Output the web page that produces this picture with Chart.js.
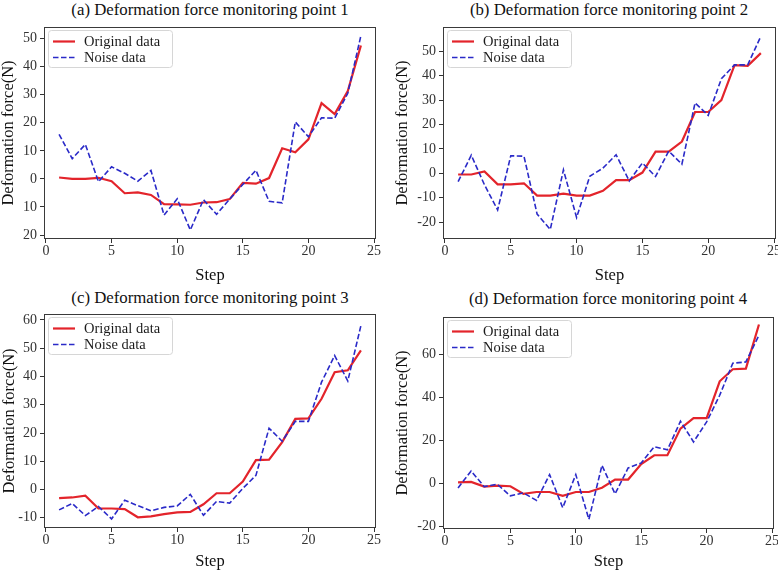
<!DOCTYPE html>
<html>
<head>
<meta charset="utf-8">
<script src="https://cdn.jsdelivr.net/npm/chart.js@4.4.0/dist/chart.umd.min.js"></script>
<style>
    body {
        margin: 0;
        background: #ffffff;
        width: 778px;
        height: 572px;
        position: relative;
        overflow: hidden;
        font-family: "Liberation Serif", "DejaVu Serif", serif;
    }
    .panel-title {
        position: absolute;
        width: 400px;
        text-align: center;
        font-size: 16.8px;
        line-height: 20px;
        color: #111;
        white-space: nowrap;
    }
    canvas {
        position: absolute;
    }
</style>
</head>
<body>
<div class="panel-title" style="left:10px; top:0px;">(a) Deformation force monitoring point 1</div>
<div class="panel-title" style="left:409px; top:0px;">(b) Deformation force monitoring point 2</div>
<div class="panel-title" style="left:10px; top:288px;">(c) Deformation force monitoring point 3</div>
<div class="panel-title" style="left:408px; top:289px;">(d) Deformation force monitoring point 4</div>

<canvas id="chartA" width="390" height="265" style="left:0px; top:20px;"></canvas>
<canvas id="chartB" width="388" height="265" style="left:390px; top:20px;"></canvas>
<canvas id="chartC" width="390" height="272" style="left:0px; top:300px;"></canvas>
<canvas id="chartD" width="388" height="272" style="left:390px; top:300px;"></canvas>

<script>
// Messschritte (x-Achse)
const steps = [1, 2, 3, 4, 5, 6, 7, 8, 9, 10, 11, 12, 13, 14, 15, 16, 17, 18, 19, 20, 21, 22, 23, 24];

// Messpunkt 1
const originalA = [0.5, 0.0, 0.0, 0.4, -0.8, -5.1, -4.8, -5.7, -9.0, -9.1, -9.2, -8.4, -8.3, -7.2, -1.4, -1.7, 0.3, 10.9, 9.5, 14.1, 27.0, 23.1, 31.3, 47.5];
const noiseA = [15.9, 7.2, 12.3, -1.0, 4.3, 2.0, -0.8, 3.0, -12.9, -7.1, -18.2, -7.4, -12.6, -7.2, -2.0, 3.1, -8.0, -8.5, 20.3, 15.0, 21.8, 21.6, 30.5, 51.0];

// Messpunkt 2
const originalB = [-0.5, -0.5, 0.8, -4.5, -4.5, -4.1, -9.1, -9.1, -8.3, -9.1, -9.1, -7.2, -2.8, -2.8, 0.3, 8.9, 8.9, 13.0, 25.1, 25.1, 30.0, 44.3, 44.0, 49.2];
const noiseB = [-3.4, 7.4, -4.7, -15.0, 7.2, 7.0, -16.7, -23.0, 1.4, -18.1, -1.2, 2.1, 7.6, -3.1, 4.2, -1.3, 9.1, 3.7, 28.8, 23.7, 38.7, 44.4, 44.4, 56.1];

// Messpunkt 3
const originalC = [-3.0, -2.8, -2.2, -6.7, -6.7, -6.9, -9.8, -9.5, -8.7, -8.1, -7.9, -5.2, -1.3, -1.3, 2.8, 10.4, 10.6, 16.8, 25.0, 25.2, 32.1, 41.5, 42.2, 49.2];
const noiseC = [-7.2, -4.9, -9.2, -6.0, -10.4, -3.8, -5.7, -7.5, -6.3, -5.8, -1.7, -9.1, -4.2, -4.8, 0.4, 5.0, 21.7, 17.1, 24.1, 24.1, 38.0, 47.4, 38.4, 58.0];

// Messpunkt 4
const originalD = [0.6, 0.8, -1.4, -0.9, -1.2, -4.8, -3.9, -3.9, -5.7, -3.9, -3.9, -1.9, 1.9, 1.9, 9.1, 13.2, 13.2, 25.6, 30.5, 30.5, 47.6, 53.2, 53.5, 74.0];
const noiseD = [-2.0, 5.9, -1.4, -0.3, -5.7, -4.3, -7.8, 4.2, -11.2, 4.2, -16.6, 8.5, -4.8, 7.3, 9.6, 17.2, 15.7, 29.0, 19.4, 28.7, 41.1, 56.0, 56.6, 69.0];

// Achsenbeschriftungen
const xTicks = [0, 5, 10, 15, 20, 25];
const yTicksA = [-20, -10, 0, 10, 20, 30, 40, 50];
const yLabelsA = ['20', '10', '0', '10', '20', '30', '40', '50'];   // im Original ohne Minuszeichen
const yTicksB = [-20, -10, 0, 10, 20, 30, 40, 50];
const yTicksC = [-10, 0, 10, 20, 30, 40, 50, 60];
const yTicksD = [-20, 0, 20, 40, 60];

const legendLabels = ['Original data', 'Noise data'];

const originalColor = '#e3242b';
const noiseColor = '#2a2ac8';
const serif = '"Liberation Serif", "DejaVu Serif", serif';

/**
 * Wandelt eine Werteliste in {x, y}-Punkte um
 */
function toPoints(values) {
    return values.map((v, i) => ({ x: steps[i], y: v }));
}

/**
 * Zeichnet Rahmen und Legende (matplotlib-Stil)
 */
const frameLegendPlugin = {
    id: 'frameLegend',
    afterDatasetsDraw(chart) {
        const ctx = chart.ctx;
        const { left, top, right, bottom } = chart.chartArea;
        ctx.save();

        // Rahmen um den Plotbereich
        ctx.strokeStyle = '#3a3a3a';
        ctx.lineWidth = 1;
        ctx.strokeRect(Math.round(left) + 0.5, Math.round(top) + 0.5,
            Math.round(right - left) - 1, Math.round(bottom - top) - 1);

        // Legende
        const bx = left + 4, by = top + 3, bw = 124, bh = 37;
        ctx.beginPath();
        ctx.roundRect(bx + 0.5, by + 0.5, bw, bh, 3);
        ctx.fillStyle = 'rgba(255,255,255,0.8)';
        ctx.fill();
        ctx.strokeStyle = '#d6d6d6';
        ctx.stroke();

        const rows = [
            { y: by + 11.5, color: originalColor, width: 2.2, dash: [] },
            { y: by + 27.5, color: noiseColor, width: 1.6, dash: [5.5, 2.5] }
        ];
        rows.forEach((row, i) => {
            ctx.beginPath();
            ctx.setLineDash(row.dash);
            ctx.strokeStyle = row.color;
            ctx.lineWidth = row.width;
            ctx.moveTo(bx + 5, row.y);
            ctx.lineTo(bx + 27, row.y);
            ctx.stroke();
            ctx.setLineDash([]);
            ctx.fillStyle = '#1a1a1a';
            ctx.font = '14.5px ' + serif;
            ctx.textBaseline = 'middle';
            ctx.textAlign = 'left';
            ctx.fillText(legendLabels[i], bx + 36, row.y + 0.5);
        });
        ctx.restore();
    }
};

/**
 * Erstellt ein Diagramm für einen Messpunkt
 */
function createPanel(canvasId, original, noise, yMin, yMax, yTicks, yLabels, layout) {
    const ctx = document.getElementById(canvasId).getContext('2d');
    const tickFont = { family: serif, size: 14 };
    const labelFont = { family: serif, size: 16.5, lineHeight: 1.0 };

    return new Chart(ctx, {
        type: 'line',
        data: {
            datasets: [
                {
                    label: legendLabels[1],
                    data: toPoints(noise),
                    borderColor: noiseColor,
                    borderWidth: 1.6,
                    borderDash: [5.5, 2.5],
                    pointRadius: 0,
                    tension: 0,
                    fill: false,
                    order: 0
                },
                {
                    label: legendLabels[0],
                    data: toPoints(original),
                    borderColor: originalColor,
                    borderWidth: 2.2,
                    pointRadius: 0,
                    tension: 0,
                    fill: false,
                    order: 1
                }
            ]
        },
        options: {
            responsive: false,
            animation: false,
            events: [],
            layout: {
                padding: { top: layout.top, right: layout.right, left: 0, bottom: 0 }
            },
            plugins: {
                legend: { display: false },
                tooltip: { enabled: false },
                title: { display: false }
            },
            scales: {
                x: {
                    type: 'linear',
                    min: -0.15,
                    max: 25.15,
                    afterBuildTicks: scale => {
                        scale.ticks = xTicks.map(v => ({ value: v }));
                    },
                    afterFit: scale => {
                        scale.height = layout.xHeight;
                        scale.paddingLeft = 0;
                        scale.paddingRight = 0;
                    },
                    grid: { drawOnChartArea: false, tickLength: 4, tickColor: '#333', color: '#333' },
                    border: { display: false },
                    ticks: { font: tickFont, color: '#333', padding: 0, maxRotation: 0, autoSkip: false },
                    title: {
                        display: true,
                        text: 'Step',
                        font: labelFont,
                        color: '#111',
                        padding: { top: 0, bottom: layout.stepPad }
                    }
                },
                y: {
                    type: 'linear',
                    min: yMin,
                    max: yMax,
                    afterBuildTicks: scale => {
                        scale.ticks = yTicks.map(v => ({ value: v }));
                    },
                    afterFit: scale => {
                        scale.width = layout.yWidth;
                        scale.paddingTop = 0;
                        scale.paddingBottom = 0;
                    },
                    grid: { drawOnChartArea: false, tickLength: 4, tickColor: '#333', color: '#333' },
                    border: { display: false },
                    ticks: {
                        font: tickFont,
                        color: '#333',
                        padding: 3,
                        autoSkip: false,
                        callback: value => {
                            const idx = yTicks.indexOf(value);
                            return yLabels ? yLabels[idx] : String(value);
                        }
                    },
                    title: {
                        display: true,
                        text: 'Deformation force(N)',
                        font: labelFont,
                        color: '#111',
                        padding: { top: layout.yTitlePad, bottom: 0 }
                    }
                }
            }
        },
        plugins: [frameLegendPlugin]
    });
}

createPanel('chartA', originalA, noiseA, -21.4, 54.1, yTicksA, yLabelsA,
    { top: 7, right: 14, xHeight: 46, yWidth: 44, stepPad: 1, yTitlePad: 0 });
createPanel('chartB', originalB, noiseB, -26.9, 59.9, yTicksB, null,
    { top: 7, right: 2, xHeight: 46, yWidth: 53, stepPad: 1, yTitlePad: 4 });
createPanel('chartC', originalC, noiseC, -13.6, 62.1, yTicksC, null,
    { top: 14, right: 14, xHeight: 44, yWidth: 44, stepPad: 2, yTitlePad: 1 });
createPanel('chartD', originalD, noiseD, -21.1, 77.5, yTicksD, null,
    { top: 17, right: 4, xHeight: 43, yWidth: 53, stepPad: 2, yTitlePad: 4 });
</script>
</body>
</html>
